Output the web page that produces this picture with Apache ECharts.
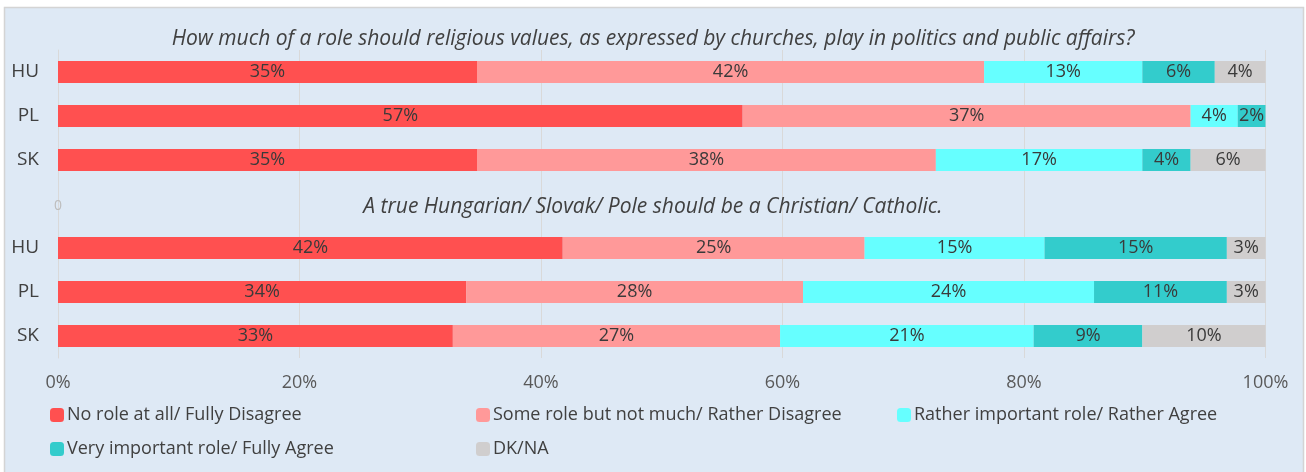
<!DOCTYPE html>
<html>
<head>
<meta charset="utf-8">
<script src="https://cdn.jsdelivr.net/npm/echarts@6/dist/echarts.min.js"></script>
<style>
  html, body { margin: 0; padding: 0; background: #ffffff; }
  #chart { width: 1306px; height: 472px; }
</style>
</head>
<body>
<div id="chart"></div>
<script>
// ---- data ----
const countries = ['HU', 'PL', 'SK'];
const question1 = 'How much of a role should religious values, as expressed by churches, play in politics and public affairs?';
const question2 = 'A true Hungarian/ Slovak/ Pole should be a Christian/ Catholic.';
const seriesNames = [
  'No role at all/ Fully Disagree',
  'Some role but not much/ Rather Disagree',
  'Rather important role/ Rather Agree',
  'Very important role/ Fully Agree',
  'DK/NA'
];
// rows: Q1 HU, Q1 PL, Q1 SK, (spacer), Q2 HU, Q2 PL, Q2 SK
const noRole    = [34.7, 56.7, 34.7, 0,    41.8, 33.8, 32.7];
const someRole  = [42.0, 37.1, 38.0, null, 25.0, 27.9, 27.1];
const ratherImp = [13.1,  3.9, 17.1, null, 14.9, 24.1, 21.0];
const veryImp   = [ 6.0,  2.3,  4.0, null, 15.1, 11.0,  9.0];
const dkna      = [ 4.2,  0.0,  6.2, null,  3.2,  3.2, 10.2];
const xTicks = [0, 20, 40, 60, 80, 100];

// ---- build ----
const categories = countries.map(c => 'Q1-' + c).concat(['gap']).concat(countries.map(c => 'Q2-' + c));
const colors = ['#ff5050', '#ff9999', '#66ffff', '#33cccc', '#d0cece'];
const allData = [noRole, someRole, ratherImp, veryImp, dkna];
const FONT = 'Open Sans';

const series = allData.map((arr, i) => ({
  name: seriesNames[i],
  type: 'bar',
  stack: 'total',
  barWidth: 22,
  itemStyle: { color: colors[i] },
  label: {
    show: true,
    position: 'inside',
    color: '#3a3a3a',
    fontFamily: FONT,
    fontSize: 18,
    formatter: p => (p.value ? Math.round(p.value) + '%' : '')
  },
  data: arr.map((v, idx) => {
    if (i === 0 && categories[idx] === 'gap') {
      return { value: v, label: { show: true, formatter: '0', color: '#bdbdbd', fontSize: 14, offset: [0, 2] } };
    }
    return v;
  })
}));

const legendPos = [
  { left: 50, top: 406 },
  { left: 476, top: 406 },
  { left: 897, top: 406 },
  { left: 50, top: 440 },
  { left: 476, top: 440 }
];
const legends = seriesNames.map((n, i) => ({
  data: [n],
  left: legendPos[i].left,
  top: legendPos[i].top,
  padding: 0,
  itemWidth: 14,
  itemHeight: 14,
  icon: 'roundRect',
  selectedMode: false,
  textStyle: { fontFamily: FONT, fontSize: 18, color: '#404040', padding: [0, 0, 0, -2] }
}));

const chart = echarts.init(document.getElementById('chart'), null, { renderer: 'canvas' });
chart.setOption({
  backgroundColor: '#ffffff',
  animation: false,
  color: colors,
  graphic: [{
    type: 'rect',
    z: -10,
    silent: true,
    shape: { x: 4.5, y: 7.5, width: 1299, height: 470 },
    style: { fill: '#dee9f5', stroke: '#d4d4d4', lineWidth: 1.5 }
  }],
  title: [
    {
      text: question1, left: 'center', top: 29, padding: 0,
      textStyle: { fontFamily: FONT, fontStyle: 'italic', fontWeight: 'normal', fontSize: 21, color: '#404040' }
    },
    {
      text: question2, left: 'center', top: 197, padding: 0,
      textStyle: { fontFamily: FONT, fontStyle: 'italic', fontWeight: 'normal', fontSize: 21, color: '#404040' }
    }
  ],
  legend: legends,
  grid: { left: 58, right: 40.5, top: 50, bottom: 114 },
  xAxis: {
    type: 'value',
    min: xTicks[0], max: xTicks[xTicks.length - 1], interval: xTicks[1] - xTicks[0],
    axisLine: { show: false },
    axisTick: { show: false },
    splitLine: { show: true, lineStyle: { color: '#d9d9d9', width: 1 } },
    axisLabel: { formatter: '{value}%', fontFamily: FONT, fontSize: 18, color: '#595959', margin: 16 }
  },
  yAxis: {
    type: 'category',
    inverse: true,
    data: categories,
    axisLine: { show: true, lineStyle: { color: '#d9d9d9' } },
    axisTick: { show: false },
    axisLabel: {
      fontFamily: FONT, fontSize: 19, color: '#404040', margin: 19,
      formatter: v => (v === 'gap' ? '' : v.split('-')[1])
    }
  },
  series: series
});
</script>
</body>
</html>
